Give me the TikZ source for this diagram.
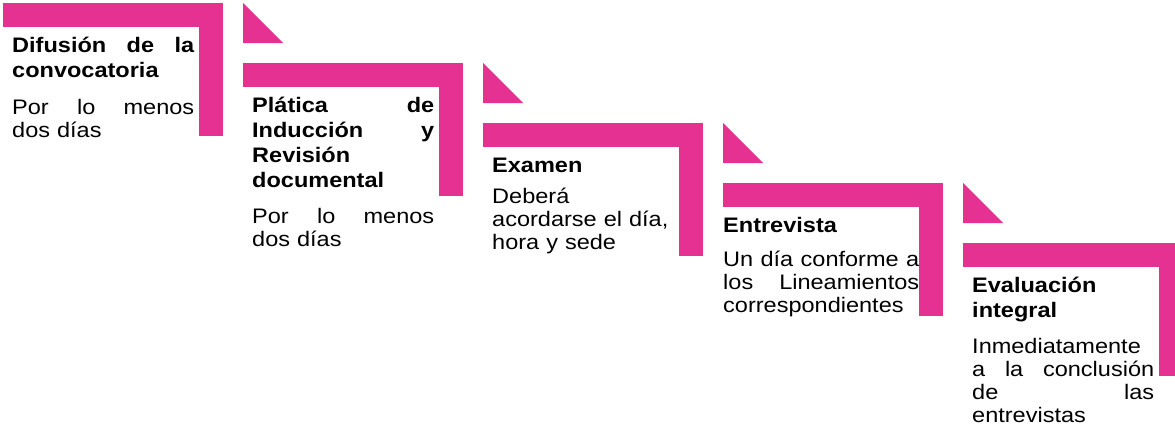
\documentclass[tikz,border=0pt]{standalone}
\usepackage{fontspec}
\setmainfont[FakeStretch=1.12]{Liberation Sans}
\usetikzlibrary{calc}

\definecolor{rosa}{RGB}{229,49,145}
\newcommand\llena[2][182pt]{\leavevmode\hbox to #1{#2}}

\tikzset{
  titulo/.style={anchor=base west,inner sep=0pt,text width=182pt,align=left,
    font=\fontsize{21}{25}\selectfont\bfseries},
  texto/.style={anchor=base west,inner sep=0pt,text width=182pt,align=left,
    font=\fontsize{21}{23}\selectfont},
}

\begin{document}
\begin{tikzpicture}[x=1pt,y=-1pt]
  \useasboundingbox (0,0) rectangle (1175,429);

  % escalones
  \foreach \i in {1,...,5} {
    \coordinate (s\i) at ({3+240*(\i-1)},{3+60*(\i-1)});
    \fill[rosa] (s\i) rectangle ++(220,24);
    \fill[rosa] ($(s\i)+(196,0)$) rectangle ++(24,133);
  }
  \foreach \i in {1,...,4}
    \fill[rosa] ($(s\i)+(240,0)$) -- ++(0,40) -- ++(40,0) -- cycle;

  \node[titulo] (t1) at ($(s1)+(9,49)$)
    {\llena{Difusión\hfill de\hfill la}\\convocatoria};
  \node[texto] (b1) at ($(s1)+(9,111)$) {\llena{Por\hfill lo\hfill menos}\\dos días};

  \node[titulo] (t2) at ($(s2)+(9,49)$)
    {\llena{Plática\hfill de}\\\llena{Inducción\hfill y}\\Revisión\\documental};
  \node[texto] (b2) at ($(s2)+(9,160)$) {\llena{Por\hfill lo\hfill menos}\\dos días};

  \node[titulo] (t3) at ($(s3)+(9,49)$) {Examen};
  \node[texto] (b3) at ($(s3)+(9,80)$) {Deberá\\acordarse el día,\\hora y sede};

  \node[titulo] (t4) at ($(s4)+(0,49)$) {Entrevista};
  \node[texto,text width=196pt] (b4) at ($(s4)+(0,83)$)
    {\llena[196pt]{Un\hfill día\hfill conforme\hfill a}\\
     \llena[196pt]{los\hfill Lineamientos}\\correspondientes};

  \node[titulo] (t5) at ($(s5)+(9,49)$) {Evaluación\\integral};
  \node[texto] (b5) at ($(s5)+(9,110)$)
    {Inmediatamente\\\llena{a\hfill la\hfill conclusión}\\\llena{de\hfill las}\\entrevistas};
\end{tikzpicture}
\end{document}
